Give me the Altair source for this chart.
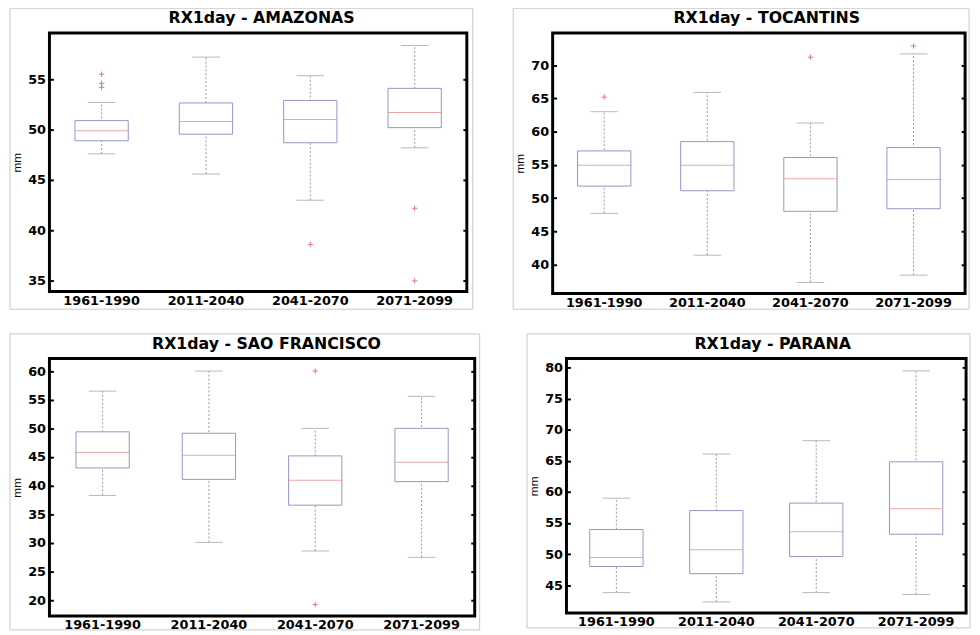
import altair as alt
import pandas as pd

periods = ["1961-1990", "2011-2040", "2041-2070", "2071-2099"]

# AMAZONAS
ama_low = [47.6, 45.6, 43.0, 48.2]
ama_q1 = [48.9, 49.55, 48.7, 50.2]
ama_med = [49.9, 50.8, 51.0, 51.7]
ama_q3 = [50.9, 52.65, 52.9, 54.1]
ama_high = [52.7, 57.2, 55.35, 58.35]
ama_out_period = ["1961-1990", "1961-1990", "1961-1990", "2041-2070", "2071-2099", "2071-2099"]
ama_out_value = [55.5, 54.6, 54.2, 38.6, 42.2, 35.0]
ama_ticks = [35, 40, 45, 50, 55]

# TOCANTINS
toc_low = [47.7, 41.4, 37.3, 38.4]
toc_q1 = [51.8, 51.1, 48.0, 48.4]
toc_med = [54.95, 54.95, 52.9, 52.8]
toc_q3 = [57.1, 58.5, 56.1, 57.6]
toc_high = [63.0, 65.9, 61.3, 71.7]
toc_out_period = ["1961-1990", "2041-2070", "2071-2099"]
toc_out_value = [65.2, 71.2, 72.9]
toc_ticks = [40, 45, 50, 55, 60, 65, 70]

# SAO FRANCISCO
sao_low = [38.3, 30.1, 28.6, 27.5]
sao_q1 = [43.1, 41.1, 36.6, 40.7]
sao_med = [45.8, 45.3, 40.95, 44.1]
sao_q3 = [49.4, 49.15, 45.2, 50.0]
sao_high = [56.5, 60.0, 50.0, 55.6]
sao_out_period = ["2041-2070", "2041-2070"]
sao_out_value = [60.0, 19.25]
sao_ticks = [20, 25, 30, 35, 40, 45, 50, 55, 60]

# PARANA
par_low = [43.8, 42.3, 43.8, 43.5]
par_q1 = [48.0, 46.85, 49.6, 53.2]
par_med = [49.45, 50.7, 53.6, 57.3]
par_q3 = [53.95, 57.0, 58.2, 64.85]
par_high = [59.0, 66.1, 68.25, 79.5]
par_out_period = []
par_out_value = []
par_ticks = [45, 50, 55, 60, 65, 70, 75, 80]

BOX = "#9494c6"
MED = "#e08282"
WHISK = "#9a9a9a"
OUT = "#c8405a"
FONT = "DejaVu Sans"


def panel(title, title_x, low, q1, med, q3, high, out_p, out_v, domain, ticks,
          w, h, ftop, fbottom, fright):
    df = pd.DataFrame({"period": periods, "low": low, "q1": q1, "med": med,
                       "q3": q3, "high": high})
    xaxis = alt.Axis(title=None, labelAngle=0, ticks=False, domain=False,
                     labelPadding=3, labelFont=FONT, labelFontWeight="bold",
                     labelFontSize=13, labelColor="black")
    x = alt.X("period:N", sort=periods,
              scale=alt.Scale(domain=periods, paddingInner=0, paddingOuter=0),
              axis=xaxis)
    ys = alt.Scale(domain=domain, nice=False, zero=False)
    left_axis = alt.Axis(title="mm", values=ticks, grid=False, domain=False,
                         tickSize=4, offset=-4, tickWidth=2, tickColor="black",
                         labelPadding=4, labelFont=FONT, labelFontWeight="bold",
                         labelFontSize=13, labelColor="black",
                         titleFont="Liberation Sans", titleFontSize=12,
                         titleFontWeight="normal", titleColor="black",
                         titlePadding=4)
    right_axis = alt.Axis(orient="right", title=None, labels=False,
                          values=ticks, grid=False, domain=False, tickSize=4,
                          offset=-4, tickWidth=2, tickColor="black")

    frame = alt.Chart(pd.DataFrame({"f": [0]})).mark_rect(
        filled=False, stroke="#c8c8c8", strokeWidth=1).encode(
        x=alt.value(-40), x2=alt.value(w + fright),
        y=alt.value(-ftop), y2=alt.value(h + fbottom))
    ttl = alt.Chart(pd.DataFrame({"t": [title]})).mark_text(
        font=FONT, fontWeight="bold", fontSize=16, color="black",
        baseline="alphabetic", align="center").encode(
        x=alt.value(title_x), y=alt.value(-10), text="t:N")

    rule = alt.Chart(df).mark_rule(color=WHISK, strokeDash=[2, 2],
                                   strokeWidth=1).encode(
        x=x, y=alt.Y("low:Q", scale=ys, axis=right_axis), y2="high:Q")
    box = alt.Chart(df).mark_bar(size=54, fill="white", stroke=BOX,
                                 strokeWidth=1).encode(
        x=x, y=alt.Y("q1:Q", scale=ys, axis=left_axis), y2="q3:Q")
    median = alt.Chart(df).mark_tick(size=54, thickness=1, color=MED).encode(
        x=x, y=alt.Y("med:Q", scale=ys, axis=None))
    cap_lo = alt.Chart(df).mark_tick(size=28, thickness=1, color=WHISK).encode(
        x=x, y=alt.Y("low:Q", scale=ys, axis=None))
    cap_hi = alt.Chart(df).mark_tick(size=28, thickness=1, color=WHISK).encode(
        x=x, y=alt.Y("high:Q", scale=ys, axis=None))
    layers = [frame, ttl, rule, box, median, cap_lo, cap_hi]
    if out_p:
        odf = pd.DataFrame({"period": out_p, "value": out_v})
        pts = alt.Chart(odf).mark_point(
            shape="M-1,0L1,0M0,-1L0,1", size=30, stroke=OUT, strokeWidth=1,
            filled=False).encode(x=x, y=alt.Y("value:Q", scale=ys, axis=None))
        layers.append(pts)
    return alt.layer(*layers).resolve_axis(y="independent").properties(
        width=w, height=h)


p1 = panel("RX1day - AMAZONAS", 215, ama_low, ama_q1, ama_med, ama_q3, ama_high,
           ama_out_period, ama_out_value, [33.95, 59.6], ama_ticks,
           423, 262, 25, 18, 6)
p2 = panel("RX1day - TOCANTINS", 217, toc_low, toc_q1, toc_med, toc_q3, toc_high,
           toc_out_period, toc_out_value, [35.65, 74.86], toc_ticks,
           418, 264, 25, 16, 4)
p3 = panel("RX1day - SAO FRANCISCO", 220, sao_low, sao_q1, sao_med, sao_q3,
           sao_high, sao_out_period, sao_out_value, [17.25, 62.19], sao_ticks,
           431, 261, 25, 14, 5)
p4 = panel("RX1day - PARANA", 209, par_low, par_q1, par_med, par_q3, par_high,
           par_out_period, par_out_value, [40.5, 81.48], par_ticks,
           405, 258, 25, 15, 4)

top = alt.hconcat(p1, p2, spacing=37)
bottom = alt.hconcat(p3, p4, spacing=44)
chart = alt.vconcat(top, bottom, spacing=21).properties(
    padding={"left": 0, "top": -6, "right": 0, "bottom": 0},
    background="white",
).configure_view(stroke="black", strokeWidth=3)

chart.save("out.html", embed_options={"renderer": "svg", "actions": False})
